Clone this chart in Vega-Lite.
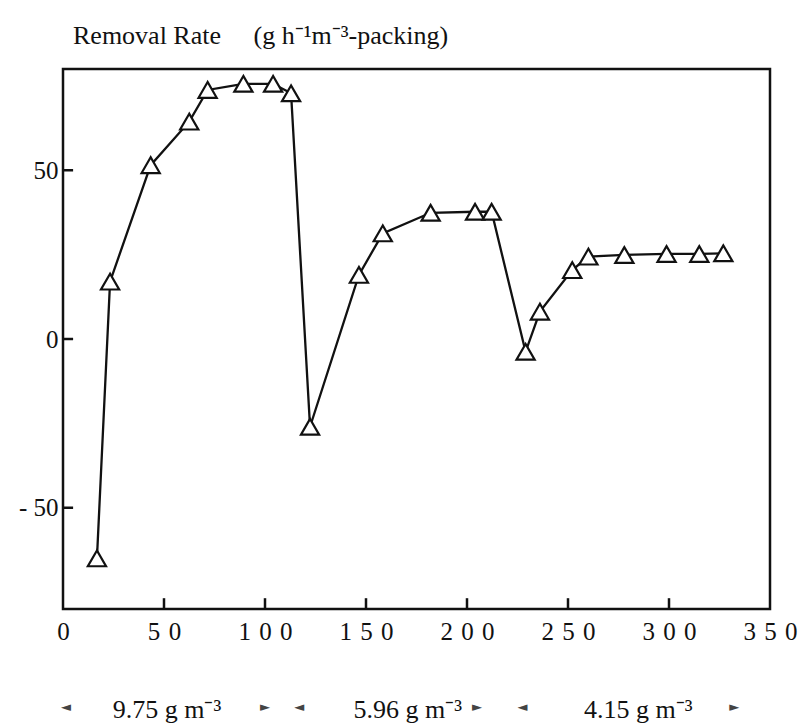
{
  "$schema": "https://vega.github.io/schema/vega-lite/v6.json",
  "width": 707,
  "height": 540,
  "autosize": "none",
  "padding": {"left": 63, "top": 69, "right": 30, "bottom": 119},
  "background": "white",
  "title": {
    "text": "Removal Rate\u2003 (g h⁻¹m⁻³-packing)",
    "anchor": "start",
    "frame": "group",
    "font": "Liberation Serif",
    "fontSize": 26,
    "fontWeight": "normal",
    "color": "#111111",
    "offset": 20,
    "dx": 10
  },
  "config": {
    "view": {"stroke": "#111111", "strokeWidth": 2.5},
    "axis": {
      "domain": false,
      "grid": false,
      "ticks": false,
      "labelFont": "Liberation Serif",
      "labelFontSize": 25,
      "labelColor": "#111111",
      "labelFlush": false,
      "labelOverlap": false,
      "labelBound": false,
      "title": null
    }
  },
  "datasets": {
    "rate": [
      {"day": 16.8, "rate": -65},
      {"day": 23.3, "rate": 17},
      {"day": 43.4, "rate": 51.5},
      {"day": 62.5, "rate": 64.4},
      {"day": 71.6, "rate": 73.8},
      {"day": 89.3, "rate": 75.6},
      {"day": 104, "rate": 75.6},
      {"day": 112.9, "rate": 72.8},
      {"day": 122.3, "rate": -26},
      {"day": 146.5, "rate": 19},
      {"day": 158.3, "rate": 31.3},
      {"day": 182, "rate": 37.4},
      {"day": 204, "rate": 37.7},
      {"day": 212.2, "rate": 37.7},
      {"day": 229, "rate": -3.8},
      {"day": 236.1, "rate": 8.1},
      {"day": 252.1, "rate": 20.4},
      {"day": 260.1, "rate": 24.4},
      {"day": 277.9, "rate": 24.9},
      {"day": 298.8, "rate": 25.2},
      {"day": 315, "rate": 25.2},
      {"day": 326.9, "rate": 25.4}
    ],
    "xticks": [
      {"day": 50}, {"day": 100}, {"day": 150}, {"day": 200}, {"day": 250}, {"day": 300}
    ],
    "yticks": [
      {"rate": -50}, {"rate": 0}, {"rate": 50}
    ],
    "notes": [
      {"day": 51.5, "label": "9.75 g m⁻³"},
      {"day": 170.7, "label": "5.96 g m⁻³"},
      {"day": 284.8, "label": "4.15 g m⁻³"}
    ],
    "arrows": [
      {"day": 1.5, "label": "◄"},
      {"day": 100, "label": "►"},
      {"day": 117, "label": "◄"},
      {"day": 205, "label": "►"},
      {"day": 227.5, "label": "◄"},
      {"day": 332.3, "label": "►"}
    ]
  },
  "layer": [
    {
      "data": {"name": "rate"},
      "mark": {"type": "line", "color": "#111111", "strokeWidth": 2.3},
      "encoding": {
        "x": {
          "field": "day",
          "type": "quantitative",
          "scale": {"domain": [0, 350], "nice": false, "zero": false},
          "axis": {
            "values": [0, 50, 100, 150, 200, 250, 300, 350],
            "labelPadding": 10,
            "labelExpr": "join(split(datum.label, ''), '\u2004')"
          }
        },
        "y": {
          "field": "rate",
          "type": "quantitative",
          "scale": {"domain": [-80, 80], "nice": false, "zero": false},
          "axis": {
            "values": [-50, 0, 50],
            "labelPadding": 5,
            "labelExpr": "datum.value < 0 ? '- ' + format(abs(datum.value), 'd') : datum.label"
          }
        }
      }
    },
    {
      "data": {"name": "xticks"},
      "mark": {"type": "rule", "color": "#111111", "strokeWidth": 2.5},
      "encoding": {
        "x": {"field": "day", "type": "quantitative"},
        "y": {"datum": -80},
        "y2": {"datum": -76.8}
      }
    },
    {
      "data": {"name": "yticks"},
      "mark": {"type": "rule", "color": "#111111", "strokeWidth": 2.5},
      "encoding": {
        "y": {"field": "rate", "type": "quantitative"},
        "x": {"datum": 0},
        "x2": {"datum": 5}
      }
    },
    {
      "data": {"name": "rate"},
      "mark": {"type": "point", "shape": "triangle-up", "filled": true, "fill": "white", "stroke": "#111111", "strokeWidth": 2.2, "size": 330, "opacity": 1},
      "encoding": {
        "x": {"field": "day", "type": "quantitative"},
        "y": {"field": "rate", "type": "quantitative"}
      }
    },
    {
      "data": {"name": "notes"},
      "mark": {"type": "text", "font": "Liberation Serif", "fontSize": 26, "color": "#111111", "baseline": "middle", "align": "center"},
      "encoding": {
        "x": {"field": "day", "type": "quantitative"},
        "y": {"datum": -110},
        "text": {"field": "label"}
      }
    },
    {
      "data": {"name": "arrows"},
      "mark": {"type": "text", "font": "DejaVu Sans", "fontSize": 13, "color": "#444444", "baseline": "middle", "align": "center"},
      "encoding": {
        "x": {"field": "day", "type": "quantitative"},
        "y": {"datum": -109},
        "text": {"field": "label"}
      }
    }
  ]
}
